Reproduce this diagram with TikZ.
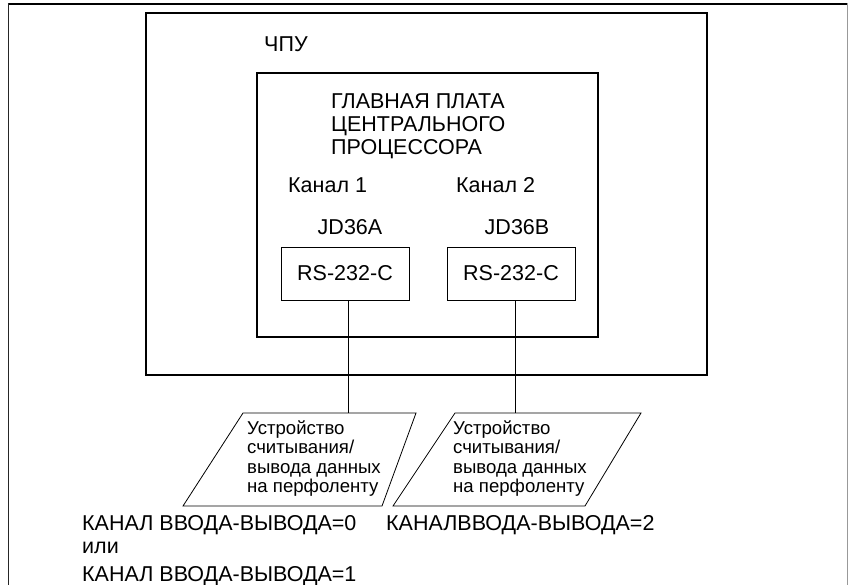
\documentclass[tikz,border=0pt]{standalone}
\usepackage{fontspec}
\setmainfont{Liberation Sans}
\begin{document}
\begin{tikzpicture}[x=1pt,y=-1pt,
  txt/.style={inner sep=0pt, font=\fontsize{21.5}{23}\selectfont, align=left},
  devtxt/.style={inner sep=0pt, font=\fontsize{18.6}{19.5}\selectfont, align=left, anchor=north west},
  rsbox/.style={draw, line width=0.8pt, minimum width=128pt, minimum height=53pt, inner sep=0pt, font=\fontsize{21.5}{23}\selectfont},
  link/.style={line width=0.8pt}]
\useasboundingbox (0,0) rectangle (848,585);
% outer frame
\draw[line width=2pt] (7.8,4.5) -- (848,4.5);
\draw[line width=1.3pt, black!85] (8.5,3.5) -- (8.5,585);
\draw[line width=1pt, black!40] (847,3.5) -- (847,585);
% CNC box
\draw[line width=2pt] (146,13) rectangle (707,375);
\node[txt, anchor=base west] (cnc) at (264,51.5) {ЧПУ};
% main board
\draw[line width=1.3pt] (257,73) rectangle (598,337);
\node[txt, anchor=north west] (board) at (331,93.3) {ГЛАВНАЯ ПЛАТА\\ЦЕНТРАЛЬНОГО\\ПРОЦЕССОРА};
\node[txt, anchor=base west] (ch1) at (288,192.5) {Канал 1};
\node[txt, anchor=base west] (ch2) at (456,192.5) {Канал 2};
\node[txt, anchor=base] (jda) at (350,234.5) {JD36A};
\node[txt, anchor=base] (jdb) at (517,234.5) {JD36B};
\node[rsbox] (rsa) at (345,273.5) {RS-232-C};
\node[rsbox] (rsb) at (511,273.5) {RS-232-C};
% devices
\draw[line width=0.8pt] (243,413) -- (416,413) -- (382,506) -- (183,506) -- cycle;
\draw[line width=0.8pt] (455,413) -- (641,413) -- (585,506) -- (393,506) -- cycle;
\coordinate (deva) at (348.5,413);
\coordinate (devb) at (515,413);
\node[devtxt] (tda) at (247,420) {Устройство\\считывания/\\вывода данных\\на перфоленту};
\node[devtxt] (tdb) at (453,420) {Устройство\\считывания/\\вывода данных\\на перфоленту};
\draw[link] (rsa.south -| deva) -- (deva);
\draw[link] (rsb.south -| devb) -- (devb);
% bottom labels
\node[txt, anchor=base west] (l0) at (82,530) {КАНАЛ ВВОДА-ВЫВОДА=0};
\node[txt, anchor=base west] (lor) at (82,553.5) {или};
\node[txt, anchor=base west] (l1) at (82,581) {КАНАЛ ВВОДА-ВЫВОДА=1};
\node[txt, anchor=base west] (l2) at (386,530) {КАНАЛВВОДА-ВЫВОДА=2};
\end{tikzpicture}
\end{document}
